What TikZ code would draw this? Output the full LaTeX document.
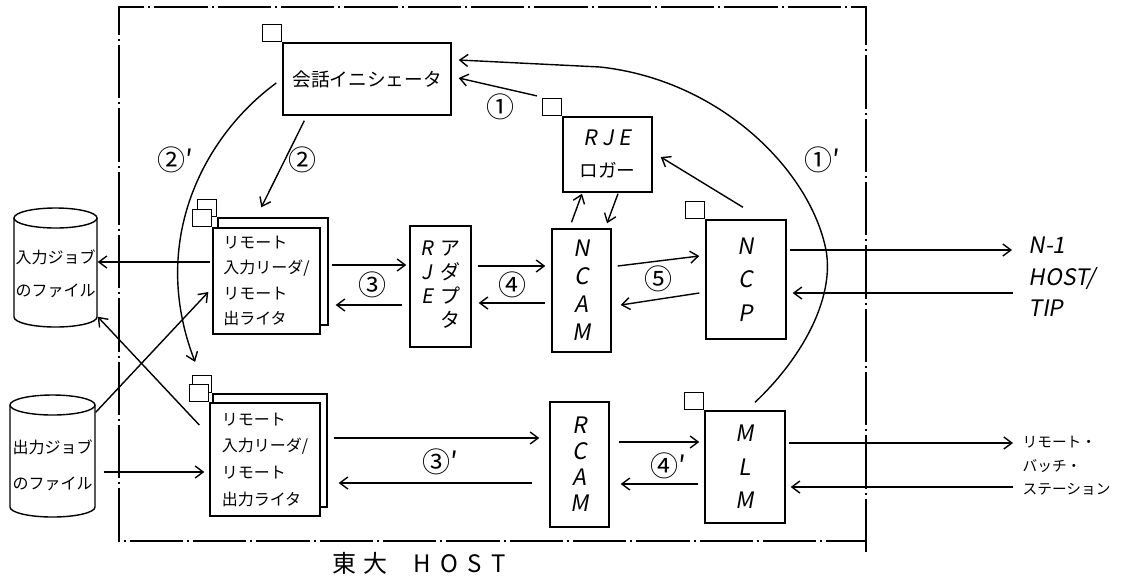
\documentclass[tikz,border=0pt]{standalone}
\usepackage{fontspec}
\setmainfont{Noto Sans CJK JP}
\newfontfamily\hand[FakeSlant=0.18]{Noto Sans CJK JP}
\usetikzlibrary{arrows.meta,calc}
\begin{document}
\begin{tikzpicture}[x=0.75pt,y=-0.75pt,
  line width=1.05pt,
  >={Straight Barb[length=6pt,width=9pt]},
  arr/.style={->},
  bx/.style 2 args={draw, fill=white, inner sep=0pt, minimum width=#1*0.75pt, minimum height=#2*0.75pt},
  flag/.style={draw, fill=white, inner sep=0pt, minimum width=19*0.75pt, minimum height=17*0.75pt, anchor=south east},
  frame/.style={line width=0.9pt, dash pattern=on 40pt off 3pt on 1.5pt off 3pt},
  lbl/.style={font=\fontsize{21}{22}\selectfont, inner sep=0pt},
  vert/.style={align=center, font=\hand\fontsize{17}{#1}\selectfont},
]
\useasboundingbox (0,0) rectangle (1126,583);

% frame
\draw[frame] (866,552) -- (866,7) -- (119,7) -- (119,541) -- (866,541);

% cylinders
\node[minimum width=83*0.75pt, minimum height=119*0.75pt, inner sep=0pt] (c1) at (55.5,267.5) {};
\draw (14,218) -- (14,317) arc[start angle=180, end angle=0, x radius=41.5, y radius=10] -- (97,218);
\draw (55.5,218) ellipse[x radius=41.5, y radius=10];
\node[align=center, inner sep=0pt, font=\fontsize{12}{25}\selectfont] (t1) at (55.5,273.5) {入力ジョブ\\のファイル};

\node[minimum width=85*0.75pt, minimum height=122*0.75pt, inner sep=0pt] (c2) at (52.5,456) {};
\draw (10,405) -- (10,507) arc[start angle=180, end angle=0, x radius=42.5, y radius=10] -- (95,405);
\draw (52.5,405) ellipse[x radius=42.5, y radius=10];
\node[align=center, inner sep=0pt, font=\fontsize{12}{27}\selectfont] (t2) at (52.5,465) {出力ジョブ\\のファイル};

% boxes
\node[bx={168}{72}, font=\fontsize{14}{16}\selectfont] (kaiwa) at (367,79) {会話イニシェータ};
\node[flag] (kaiwaF) at (kaiwa.north west) {};

\node[bx={89}{75}, align=center, font=\fontsize{14}{24}\selectfont] (logger) at (607.5,154.5) {{\hand\fontsize{16}{24}\selectfont R J E}\\ロガー};
\node[flag] (loggerF) at (logger.north west) {};

\node[bx={110}{107}] (remUb) at (273,271.5) {};
\node[flag] (remUbF) at (remUb.north west) {};
\node[bx={107}{106}, align=left, font=\fontsize{12}{19}\selectfont] (remU) at (266.5,281) {リモート\\入力リーダ/\\リモート\\出ライタ};
\node[flag] (remUF) at (remU.north west) {};

\node[bx={114}{113}] (remLb) at (270,450.5) {};
\node[flag] (remLbF) at (remLb.north west) {};
\node[bx={110}{113}, align=left, font=\fontsize{12}{20}\selectfont] (remL) at (265,459.5) {リモート\\入力リーダ/\\リモート\\出力ライタ};
\node[flag] (remLF) at (remL.north west) {};

\node[bx={61}{121}, font=\fontsize{15}{18}\selectfont] (ad) at (440.5,286.5)
  {\begin{tabular}{@{}c@{\hspace{5pt}}c@{}}{\hand R}&ア\\{\hand J}&ダ\\{\hand E}&プ\\&タ\end{tabular}};

\node[bx={59}{123}, vert=21pt] (ncam) at (581.5,290.5) {N\\C\\A\\M};
\node[bx={80}{119}, vert=25pt] (ncp) at (746,279.5) {N\\C\\P};
\node[flag] (ncpF) at (ncp.north west) {};
\node[bx={59}{125}, vert=19.5pt] (rcam) at (579.5,464.5) {R\\C\\A\\M};
\node[bx={80}{112}, vert=25pt] (mlm) at (745,467) {M\\L\\M};
\node[flag] (mlmF) at (mlm.north west) {};

% right labels
\node[anchor=west, align=left, inner sep=0pt, font=\hand\fontsize{17}{23.5}\selectfont] (n1) at (1028,277) {N-1\\HOST/\\TIP};
\node[anchor=west, align=left, inner sep=0pt, font=\fontsize{11}{17.5}\selectfont] (rs) at (1022,466) {リモート・\\バッチ・\\ステーション};

% bottom title
\node[inner sep=0pt, font=\fontsize{18}{20}\selectfont] (todai) at (419,563) {東\hspace{5pt}大\hspace{20pt}H\hspace{7pt}O\hspace{7pt}S\hspace{7pt}T};

% circled labels
\node[lbl] (L1) at (500,107) {①};
\node[lbl] (L2) at (302,160) {②};
\node[lbl] (L2p) at (175,160) {②′};
\node[lbl] (L3) at (372,285) {③};
\node[lbl] (L3p) at (440,462) {③′};
\node[lbl] (L4) at (512,285) {④};
\node[lbl] (L4p) at (668,466) {④′};
\node[lbl] (L5) at (658,279) {⑤};
\node[lbl] (L1p) at (822,160) {①′};

% connectors
\draw[arr] ($(remU.west|-0,262)+(-2,0)$) -- (c1.east|-0,262);
\draw[arr] ($(remL.west|-0,425)+(-10,0)$) -- ($(c1.south east)+(0,-11)$);
\draw[arr] ($(c2.north east)+(0,18)$) -- ($(remU.west|-0,292)+(-4,0)$);
\draw[arr] ($(c2.east|-0,472)+(8,0)$) -- ($(remL.west|-0,472)+(-5,0)$);

\draw[arr] ($(remUb.east|-0,265)+(3,0)$) -- ($(ad.west|-0,265)+(-3,0)$);
\draw[arr] ($(ad.west|-0,305)+(-7,0)$) -- ($(remUb.east|-0,305)+(7,0)$);
\draw[arr] ($(ad.east|-0,266)+(6,0)$) -- ($(ncam.west|-0,266)+(-6,0)$);
\draw[arr] ($(ncam.west|-0,303)+(-6,0)$) -- ($(ad.east|-0,303)+(7,0)$);
\draw[arr] ($(ncam.east|-0,266)+(6,0)$) -- ($(ncp.west|-0,256)+(-6,0)$);
\draw[arr] ($(ncp.west|-0,293)+(-6,0)$) -- ($(ncam.east|-0,305)+(9,0)$);
\draw[arr] ($(ncp.east|-0,250)+(3,0)$) -- ($(n1.west|-0,250)+(-16,0)$);
\draw[arr] ($(n1.west|-0,293)+(-15,0)$) -- ($(ncp.east|-0,293)+(6,0)$);

\draw[arr] ($(remLb.east|-0,438)+(6,0)$) -- ($(rcam.west|-0,438)+(-10,0)$);
\draw[arr] ($(rcam.west|-0,483)+(-17,0)$) -- ($(remLb.east|-0,483)+(11,0)$);
\draw[arr] ($(rcam.east|-0,442)+(9,0)$) -- ($(mlm.west|-0,442)+(-5,0)$);
\draw[arr] ($(mlm.west|-0,484)+(-6,0)$) -- ($(rcam.east|-0,484)+(11,0)$);
\draw[arr] ($(mlm.east|-0,443)+(3,0)$) -- ($(rs.west|-0,443)+(-9,0)$);
\draw[arr] ($(rs.west|-0,487)+(-9,0)$) -- ($(mlm.east|-0,487)+(5,0)$);

\draw[arr] ($(ncam.north)+(-10,-6)$) -- ($(logger.south)+(-25.5,1)$);
\draw[arr] ($(logger.south)+(10.5,1)$) -- ($(ncam.north)+(25.5,-5)$);
\draw[arr] ($(ncp.north)+(-3,-12)$) -- ($(logger.east)+(8,2.5)$);
\draw[arr] ($(loggerF.north west)+(-5,-2)$) -- ($(kaiwa.east)+(7,-1)$);
\draw[arr] ($(kaiwa.south west)+(22,5)$) -- ($(remUb.north west)+(44,-10)$);
\draw[arr] ($(kaiwa.west)+(-6,4)$) .. controls (205,135) and (148,240) .. ($(remLbF.north)+(-7,-13)$);
\draw[arr] ($(mlm.north)+(10,-8)$) .. controls (800,360) and (835,300) .. (826,250)
   .. controls (810,170) and (720,80) .. (600,67) -- ($(kaiwa.east)+(7,-19)$);
\end{tikzpicture}
\end{document}
